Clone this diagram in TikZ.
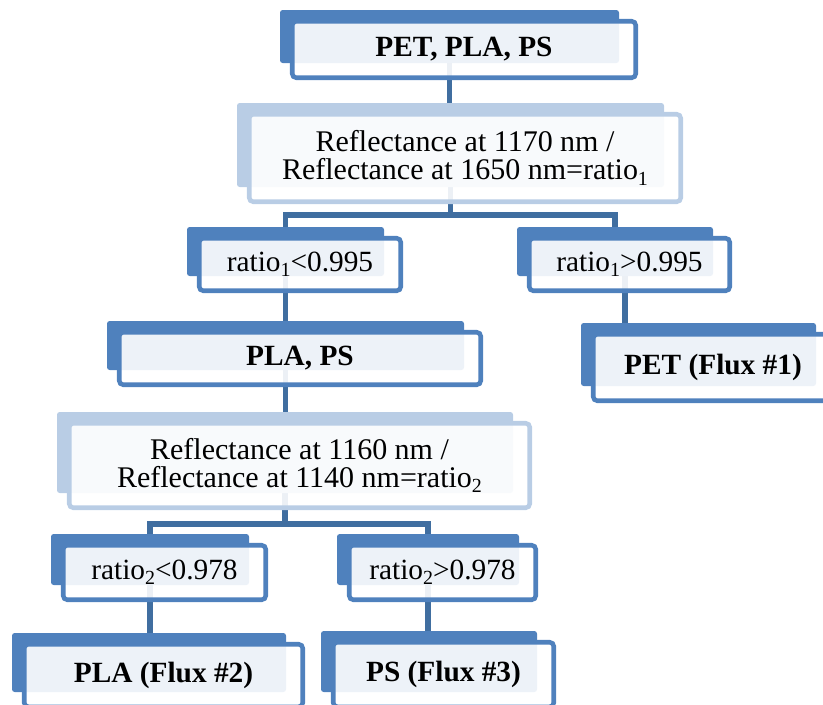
\documentclass[tikz,border=0pt]{standalone}
\usepackage{fontspec}
\setmainfont{Liberation Serif}
\usetikzlibrary{calc}
\definecolor{boxblue}{RGB}{79,129,189}
\definecolor{paleblue}{RGB}{185,205,229}
\definecolor{linkblue}{RGB}{64,110,160}
\pgfdeclarelayer{lines}
\pgfdeclarelayer{backs}
\pgfsetlayers{lines,backs,main}
\newdimen\pxu \pxu=0.75pt
\newcommand\lowsub[1]{\raisebox{-0.4ex}{\fontsize{15}{15}\selectfont #1}}

\begin{document}
\begin{tikzpicture}[x=0.75pt,y=-0.75pt]
\tikzstyle frontbox=[draw=boxblue, line width=3.4pt, rounded corners=3pt, fill=white, fill opacity=.9, text opacity=1, inner sep=0pt, outer sep=0pt, align=center, font=\fontsize{22}{21}\selectfont];
\tikzstyle palebox=[frontbox, draw=paleblue, font=\fontsize{22.5}{21}\selectfont];
\tikzstyle namebox=[frontbox, font=\fontsize{22}{21}\selectfont\bfseries];
\tikzstyle conn=[draw=linkblue, line width=4pt];
\useasboundingbox (0,0) rectangle (823,704);

% boxes
\node[namebox, minimum width=343.5\pxu, minimum height=56.5\pxu] (top) at (464,49.5) {PET, PLA, PS};
\node[palebox, minimum width=431.5\pxu, minimum height=87.5\pxu] (r1) at (465,158) {Reflectance at 1170 nm /\\Reflectance at 1650 nm=ratio\lowsub{1}};
\node[frontbox, minimum width=201.5\pxu, minimum height=52.5\pxu] (lt1) at (300,264.5) {ratio\lowsub{1}<0.995};
\node[frontbox, minimum width=200.5\pxu, minimum height=52.5\pxu] (gt1) at (629.5,264.5) {ratio\lowsub{1}>0.995};
\node[namebox, minimum width=239.5\pxu, minimum height=66.5\pxu] (pet) at (713,367.5) {PET (Flux \#1)};
\node[namebox, minimum width=361.5\pxu, minimum height=52.5\pxu] (plaps) at (300,358.5) {PLA, PS};
\node[palebox, minimum width=460.5\pxu, minimum height=84.5\pxu] (r2) at (299.5,465.5) {Reflectance at 1160 nm /\\Reflectance at 1140 nm=ratio\lowsub{2}};
\node[frontbox, minimum width=202.5\pxu, minimum height=54.5\pxu] (lt2) at (164.5,572.5) {ratio\lowsub{2}<0.978};
\node[frontbox, minimum width=186.5\pxu, minimum height=54.5\pxu] (gt2) at (442.5,572.5) {ratio\lowsub{2}>0.978};
\node[namebox, minimum width=278.5\pxu, minimum height=62.5\pxu] (pla) at (163.5,675.5) {PLA (Flux \#2)};
\node[namebox, minimum width=220.5\pxu, minimum height=64.5\pxu] (ps) at (443.5,674.5) {PS (Flux \#3)};

% back plates
\begin{pgfonlayer}{backs}
\foreach \n in {top,lt1,gt1,pet,plaps,lt2,gt2,pla,ps}
  \fill[boxblue, rounded corners=2pt] ([shift={(-12.25,-11.25)}]\n.north west) rectangle ([shift={(-16.75,-14.75)}]\n.south east);
\foreach \n in {r1,r2}
  \fill[paleblue, rounded corners=2pt] ([shift={(-12.25,-11.25)}]\n.north west) rectangle ([shift={(-16.75,-14.75)}]\n.south east);
\end{pgfonlayer}
\foreach \n in {top,r1,lt1,gt1,pet,plaps,r2,lt2,gt2,pla,ps}
  \coordinate (\n-b) at ([shift={(-14.5,-13)}]\n.center);

% connectors
\begin{pgfonlayer}{lines}
\draw[conn] (top-b) -- (top-b |- r1-b);
\draw[conn] (r1-b) -- ++(0,70) -| (lt1-b);
\draw[conn] (r1-b) -- ++(0,70) -| (gt1-b);
\draw[conn] ([xshift=7.5pt]gt1-b) -- ([xshift=7.5pt]gt1-b |- pet-b);
\draw[conn] (lt1-b) -- (lt1-b |- plaps-b);
\draw[conn] (plaps-b) -- (plaps-b |- r2-b);
\draw[conn] (r2-b) -- ++(0,71.5) -| (lt2-b);
\draw[conn] (r2-b) -- ++(0,71.5) -| (gt2-b);
\draw[conn] (lt2-b) -- (lt2-b |- pla-b);
\draw[conn] (gt2-b) -- (gt2-b |- ps-b);
\end{pgfonlayer}
\end{tikzpicture}
\end{document}
